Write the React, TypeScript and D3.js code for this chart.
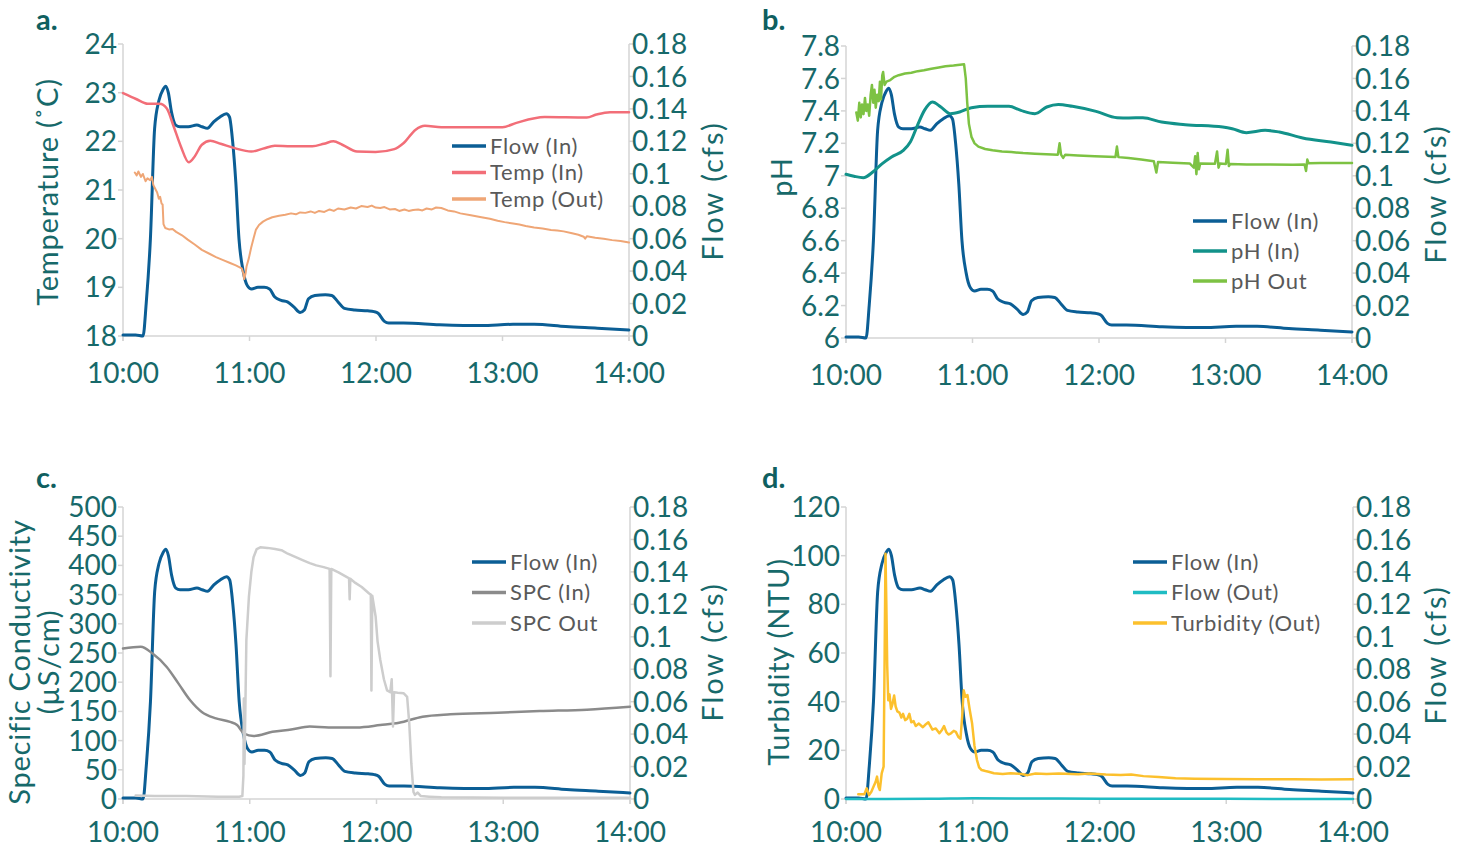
import React from 'react'
import * as d3 from 'd3'

type Pt = [number, number]

// time is minutes after 10:00
const timeTicks = [0, 60, 120, 180, 240]
const timeLabels = ['10:00', '11:00', '12:00', '13:00', '14:00']

const flowTicks = [0, 0.02, 0.04, 0.06, 0.08, 0.1, 0.12, 0.14, 0.16, 0.18]
const flowLabels = ['0', '0.02', '0.04', '0.06', '0.08', '0.1', '0.12', '0.14', '0.16', '0.18']

const tempTicks = [18, 19, 20, 21, 22, 23, 24]
const phTicks = [6, 6.2, 6.4, 6.6, 6.8, 7, 7.2, 7.4, 7.6, 7.8]
const phLabels = ['6', '6.2', '6.4', '6.6', '6.8', '7', '7.2', '7.4', '7.6', '7.8']
const spcTicks = [0, 50, 100, 150, 200, 250, 300, 350, 400, 450, 500]
const turbTicks = [0, 20, 40, 60, 80, 100, 120]

const flowIn: Pt[] = [
  [0, 0.0006], [6, 0.0006], [9.5, 0], [11, 0.02], [13, 0.06], [15, 0.128], [17, 0.145], [19, 0.152],
  [20.3, 0.154], [21.5, 0.15], [23, 0.138], [25, 0.13], [27, 0.129], [31, 0.129], [35, 0.13],
  [37.5, 0.129], [40, 0.128], [43, 0.132], [46, 0.135], [49, 0.137], [50.5, 0.135], [52, 0.12],
  [53.5, 0.095], [55, 0.06], [57, 0.04], [59, 0.031], [61, 0.029], [64, 0.03], [67, 0.03],
  [69.5, 0.029], [72, 0.024], [75, 0.022], [78, 0.021], [81, 0.018], [84, 0.0145], [86, 0.016],
  [88, 0.023], [91, 0.025], [96, 0.0255], [99, 0.025], [102, 0.021], [105, 0.017], [110, 0.016],
  [116, 0.0155], [119, 0.015], [121, 0.014], [124, 0.009], [126, 0.008], [133, 0.008], [150, 0.007],
  [170, 0.0064], [185, 0.0072], [195, 0.0072], [210, 0.0058], [225, 0.0048], [240, 0.0037],
]

const flowOut: Pt[] = [[0, 0], [40, 0.0001], [60, 0.0004], [90, 0.0003], [120, 0.0002], [180, 0.0001], [240, 0]]

const tempIn: Pt[] = [
  [0, 22.99], [6.2, 22.87], [11.8, 22.77], [17.4, 22.77], [20.7, 22.68], [24, 22.31], [27.4, 21.9],
  [31.2, 21.57], [34, 21.69], [37.4, 21.93], [41.4, 22.01], [46.3, 21.95], [53, 21.86], [60.8, 21.79],
  [66.4, 21.85], [72, 21.91], [79.7, 21.9], [89.8, 21.9], [95.3, 21.95], [99.8, 22.0], [104, 21.93],
  [111, 21.79], [119.8, 21.78], [128.7, 21.84], [133, 21.96], [138.8, 22.24], [143.2, 22.32],
  [151, 22.29], [164.4, 22.29], [180, 22.29], [186.6, 22.38], [200, 22.5], [220, 22.49],
  [224.5, 22.55], [231, 22.6], [240, 22.6],
]

const tempOut: Pt[] = [
  [5.6, 21.36], [6.5, 21.3], [7.3, 21.38], [8.5, 21.27], [9.4, 21.33], [10.7, 21.18], [11.6, 21.24],
  [12.9, 21.2], [13.7, 21.27], [14.4, 21.1], [15.1, 21.04], [16.2, 20.95], [17, 20.82], [17.6, 20.86],
  [18.3, 20.72], [18.8, 20.7], [19.2, 20.3], [20, 20.22], [21.8, 20.19], [23.5, 20.2], [25.2, 20.14],
  [28, 20.07], [30.7, 19.98], [34, 19.88], [37.4, 19.77], [41, 19.69], [44.1, 19.62], [47.5, 19.56],
  [50.8, 19.5], [53.5, 19.45], [56.3, 19.39], [57, 19.3], [57.5, 19.17], [58.2, 19.3], [58.6, 19.43],
  [59.7, 19.6], [60.8, 19.82], [62, 20.02], [63, 20.18], [64.5, 20.28], [66.4, 20.35], [68.5, 20.4],
  [70.8, 20.44], [74, 20.47], [77, 20.49], [79.7, 20.52], [82, 20.5], [84, 20.54], [86.5, 20.53],
  [89, 20.56], [91, 20.53], [93, 20.57], [95.5, 20.55], [98, 20.6], [100, 20.57], [102, 20.62],
  [105, 20.6], [108, 20.64], [110.5, 20.62], [113, 20.67], [116, 20.65], [118, 20.68], [119.8, 20.64],
  [122, 20.63], [124, 20.65], [126.5, 20.6], [129, 20.61], [131, 20.57], [133.5, 20.6], [135.5, 20.57],
  [137.6, 20.59], [140, 20.6], [142, 20.58], [144, 20.62], [146.5, 20.6], [148.5, 20.64], [151, 20.63],
  [154, 20.58], [157, 20.56], [160, 20.52], [165, 20.48], [170, 20.44], [174, 20.41], [177.7, 20.37],
  [181, 20.34], [185, 20.31], [188, 20.29], [191, 20.26], [195, 20.23], [199, 20.21], [203, 20.18],
  [206, 20.17], [209, 20.15], [213, 20.11], [216, 20.08], [218.5, 20.04], [219.2, 20.0], [220, 20.05],
  [224, 20.02], [228, 20.0], [232, 19.97], [236, 19.95], [240, 19.92],
]

const phIn: Pt[] = [
  [0, 7.009], [3.8, 6.997], [8.2, 6.988], [12.7, 7.023], [17.2, 7.075], [21.6, 7.116], [27.2, 7.157],
  [30.5, 7.208], [33.9, 7.311], [37.2, 7.403], [41, 7.455], [45, 7.424], [49.5, 7.383], [53.9, 7.393],
  [59.5, 7.42], [67.3, 7.428], [77.3, 7.428], [82.9, 7.403], [89.6, 7.383], [95.2, 7.424],
  [100.7, 7.44], [107.4, 7.428], [118.6, 7.397], [128.6, 7.358], [134.2, 7.356], [140.8, 7.358],
  [149.7, 7.331], [160.9, 7.315], [178.7, 7.3], [183.2, 7.29], [189.9, 7.266], [198.8, 7.28],
  [205.5, 7.27], [216.6, 7.233], [230, 7.208], [240, 7.188],
]

const phOut: Pt[] = [
  [4.9, 7.39], [5.6, 7.34], [6.3, 7.45], [7, 7.36], [7.6, 7.44], [8.3, 7.38], [9, 7.48], [9.6, 7.4],
  [10.3, 7.44], [11, 7.37], [11.7, 7.5], [12.3, 7.56], [12.9, 7.45], [13.5, 7.53], [14.1, 7.42],
  [14.8, 7.5], [15.5, 7.46], [16.1, 7.58], [16.6, 7.47], [17.2, 7.62], [17.6, 7.64], [18.3, 7.56],
  [19.2, 7.58], [21, 7.59], [23, 7.61], [25, 7.62], [28, 7.63], [31, 7.635], [34, 7.645], [37, 7.65],
  [40.5, 7.66], [44, 7.668], [47.2, 7.675], [51, 7.68], [54, 7.685], [56, 7.687], [56.8, 7.6],
  [57.5, 7.45], [58.3, 7.32], [59.5, 7.24], [61, 7.2], [62.8, 7.18], [66, 7.165], [69.5, 7.157],
  [74, 7.15], [78.4, 7.146], [84, 7.14], [89.6, 7.136], [95, 7.133], [100.5, 7.13], [101.3, 7.2],
  [102, 7.13], [103, 7.11], [104, 7.13], [110, 7.125], [118, 7.12], [127.8, 7.115], [128.5, 7.18],
  [129.2, 7.115], [134, 7.11], [140, 7.1], [146, 7.09], [147.2, 7.02], [148, 7.085], [155, 7.08],
  [163, 7.076], [165, 7.05], [165.6, 7.12], [166.2, 7.01], [166.8, 7.14], [167.4, 7.04], [168, 7.076],
  [175, 7.074], [176, 7.15], [176.7, 7.05], [177.3, 7.075], [180.2, 7.073], [181, 7.16], [181.6, 7.06],
  [182.2, 7.072], [190, 7.07], [200, 7.07], [212, 7.068], [217.5, 7.069], [218.2, 7.03], [218.8, 7.1],
  [219.4, 7.077], [225, 7.078], [240, 7.078],
]

const spcIn: Pt[] = [
  [0, 257.7], [8.4, 260.5], [14, 249], [20.7, 226], [26.2, 198], [31.8, 169], [37.3, 149], [44, 138],
  [50.7, 132], [54, 126.6], [57.3, 112], [61.8, 108], [70.7, 115], [79.6, 119], [88.4, 124],
  [97.3, 122.6], [110.7, 122.6], [121.8, 126.6], [130.7, 130.5], [141.8, 141], [155, 145],
  [177.3, 147.7], [197.3, 150.5], [219.6, 153], [240, 158],
]

const spcOut: Pt[] = [
  [6, 6], [15, 5], [30, 5], [45, 4], [55, 4], [56.5, 5], [57, 40], [57.2, 172], [57.5, 60], [57.9, 150],
  [58.4, 272], [59.6, 346], [60.8, 390], [61.8, 414], [63.3, 428], [65, 431], [68.4, 430], [72, 428],
  [75, 426], [78, 420], [81.8, 414], [85, 409], [88.4, 404], [91.5, 400], [95, 397], [97.8, 394],
  [98.2, 210], [98.6, 394], [102, 388], [106, 380], [107, 378], [107.3, 342], [107.6, 377], [110, 370],
  [113, 363], [116.5, 352], [117.3, 350], [117.6, 186], [118, 348], [119.6, 312], [120.5, 270],
  [121.8, 238], [123.5, 205], [125, 186], [126.5, 183], [127.2, 205], [127.8, 124], [128.3, 183],
  [130, 182], [132.9, 181], [134.5, 175], [135.5, 130], [136.5, 60], [137.5, 12], [138.2, 7],
  [139.5, 11], [141, 5], [145, 4], [150.7, 3], [180, 2], [240, 2],
]

const turbOut: Pt[] = [
  [5.8, 2], [8.7, 2], [9.8, 4.4], [10.9, 1.6], [12, 3], [13.1, 5.2], [14, 7], [14.7, 9.2], [15.4, 5],
  [16, 3.7], [16.9, 10.5], [17.8, 13.3], [18.3, 60], [18.7, 100.8], [19.1, 80], [19.5, 55], [20, 40.6],
  [20.6, 43], [21.3, 37], [22, 39], [22.8, 42.5], [23.5, 38], [24.3, 36], [25.3, 35.5], [26.2, 33.5],
  [27, 35], [28, 32.4], [29, 33], [30, 35], [30.9, 31.5], [32, 32], [33, 30], [34.5, 31], [36.4, 29.5],
  [37.5, 30.5], [39, 31.5], [40.9, 28.5], [42.5, 29], [44.2, 27], [45.5, 28.5], [46.4, 30], [47.5, 27.5],
  [48.5, 26.5], [49.7, 27], [51, 28], [52, 27.6], [53.2, 25.5], [54.2, 24.8], [55, 34], [55.7, 44.7],
  [56.5, 42], [57.5, 42.7], [58.5, 37], [59.7, 31], [60.8, 22], [62, 16], [63, 13], [64.2, 11.9],
  [66, 11.5], [67.5, 11.2], [70, 10.6], [74.2, 10.3], [78, 10.6], [83, 10.3], [86, 9.8], [89.7, 10.5],
  [95, 10.3], [100.8, 10.5], [110, 10.2], [115, 10.5], [123, 10.1], [130, 9.9], [135, 10.1],
  [140.8, 9.4], [148, 9], [156, 8.5], [165, 8.3], [178.5, 8.2], [195, 8.1], [211.8, 8.1], [225, 8],
  [240, 8.1],
]

const TEAL = '#17696a'
const AXIS = '#d4d4d4'
const LEGEND_TEXT = '#595959'
const FONT = "Lato, 'Open Sans', sans-serif"

type Series = { name: string; data: Pt[]; color: string; width: number; axis: 'L' | 'R'; smooth: boolean }

type PanelCfg = {
  letter: string
  letterX: number
  letterY: number
  x0: number
  x1: number
  yTop: number
  yBot: number
  leftDomain: [number, number]
  leftTicks: number[]
  leftLabels: string[]
  leftTitle: string[]
  leftTitleX: number[]
  titleY: number
  rightTitleX: number
  rightTitleY: number
  xLabelDy: number
  legendX: number
  legendY: number
  legendGap: number
  series: Series[]
  legendOrder: string[]
}

const flowSeries: Series = { name: 'Flow (In)', data: flowIn, color: '#0b5e95', width: 3, axis: 'R', smooth: true }

const panels: PanelCfg[] = [
  {
    letter: 'a.', letterX: 36, letterY: 30, x0: 123, x1: 629, yTop: 44, yBot: 336,
    leftDomain: [18, 24], leftTicks: tempTicks, leftLabels: tempTicks.map(String),
    leftTitle: ['Temperature (˚C)'], leftTitleX: [46], titleY: 192, rightTitleX: 711, rightTitleY: 191,
    xLabelDy: 47, legendX: 452, legendY: 146, legendGap: 26.5,
    series: [
      flowSeries,
      { name: 'Temp (In)', data: tempIn, color: '#f26e78', width: 2.5, axis: 'L', smooth: true },
      { name: 'Temp (Out)', data: tempOut, color: '#efa676', width: 2, axis: 'L', smooth: false },
    ],
    legendOrder: ['Flow (In)', 'Temp (In)', 'Temp (Out)'],
  },
  {
    letter: 'b.', letterX: 762, letterY: 30, x0: 846, x1: 1352, yTop: 46, yBot: 338,
    leftDomain: [6, 7.8], leftTicks: phTicks, leftLabels: phLabels,
    leftTitle: ['pH'], leftTitleX: [780], titleY: 177, rightTitleX: 1434, rightTitleY: 194,
    xLabelDy: 47, legendX: 1193, legendY: 221, legendGap: 30,
    series: [
      flowSeries,
      { name: 'pH (In)', data: phIn, color: '#12928a', width: 3, axis: 'L', smooth: true },
      { name: 'pH Out', data: phOut, color: '#7dc243', width: 2.5, axis: 'L', smooth: false },
    ],
    legendOrder: ['Flow (In)', 'pH (In)', 'pH Out'],
  },
  {
    letter: 'c.', letterX: 36, letterY: 488, x0: 123, x1: 630, yTop: 507, yBot: 799,
    leftDomain: [0, 500], leftTicks: spcTicks, leftLabels: spcTicks.map(String),
    leftTitle: ['Specific Conductivity', '(µS/cm)'], leftTitleX: [18, 47], titleY: 662, rightTitleX: 711, rightTitleY: 652,
    xLabelDy: 43, legendX: 472, legendY: 562, legendGap: 30.5,
    series: [
      flowSeries,
      { name: 'SPC (In)', data: spcIn, color: '#8b8b8b', width: 2.5, axis: 'L', smooth: true },
      { name: 'SPC Out', data: spcOut, color: '#cdcdcd', width: 2.5, axis: 'L', smooth: false },
    ],
    legendOrder: ['Flow (In)', 'SPC (In)', 'SPC Out'],
  },
  {
    letter: 'd.', letterX: 762, letterY: 488, x0: 846, x1: 1353, yTop: 507, yBot: 799,
    leftDomain: [0, 120], leftTicks: turbTicks, leftLabels: turbTicks.map(String),
    leftTitle: ['Turbidity (NTU)'], leftTitleX: [777], titleY: 662, rightTitleX: 1434, rightTitleY: 655,
    xLabelDy: 43, legendX: 1133, legendY: 562, legendGap: 30.5,
    series: [
      flowSeries,
      { name: 'Flow (Out)', data: flowOut, color: '#1fbcc3', width: 2.5, axis: 'R', smooth: true },
      { name: 'Turbidity (Out)', data: turbOut, color: '#fcc02d', width: 2.5, axis: 'L', smooth: false },
    ],
    legendOrder: ['Flow (In)', 'Flow (Out)', 'Turbidity (Out)'],
  },
]

function Panel({ p }: { p: PanelCfg }) {
  const x = d3.scaleLinear().domain([0, 240]).range([p.x0, p.x1])
  const yL = d3.scaleLinear().domain(p.leftDomain).range([p.yBot, p.yTop])
  const yR = d3.scaleLinear().domain([0, 0.18]).range([p.yBot, p.yTop])

  const path = (s: Series) => {
    const y = s.axis === 'L' ? yL : yR
    return d3.line<Pt>()
      .x(d => x(d[0]))
      .y(d => y(d[1]))
      .curve(s.smooth ? d3.curveMonotoneX : d3.curveLinear)(s.data) || ''
  }

  const byName = (n: string) => p.series.find(s => s.name === n)!

  return (
    <g>
      <text x={p.letterX} y={p.letterY} fill="#0f5f60" fontSize={29} fontWeight={700} fontFamily={FONT}>{p.letter}</text>

      {/* axes */}
      <g stroke={AXIS} strokeWidth={1.5} fill="none">
        <line x1={p.x0} x2={p.x0} y1={p.yTop} y2={p.yBot + 5} />
        <line x1={p.x1} x2={p.x1} y1={p.yTop} y2={p.yBot + 5} />
        <line x1={p.x0} x2={p.x1} y1={p.yBot} y2={p.yBot} />
        {p.leftTicks.map(t => <line key={'l' + t} x1={p.x0 - 5} x2={p.x0} y1={yL(t)} y2={yL(t)} />)}
        {flowTicks.map(t => <line key={'r' + t} x1={p.x1} x2={p.x1 + 5} y1={yR(t)} y2={yR(t)} />)}
        {timeTicks.map(t => <line key={'b' + t} x1={x(t)} x2={x(t)} y1={p.yBot} y2={p.yBot + 5} />)}
      </g>

      {/* series, flow underneath */}
      {p.series.map(s => (
        <path key={s.name} d={path(s)} fill="none" stroke={s.color} strokeWidth={s.width}
          strokeLinejoin="round" strokeLinecap="round" />
      ))}

      {/* tick labels */}
      <g fill={TEAL} fontFamily={FONT} fontSize={28}>
        {p.leftTicks.map((t, i) => (
          <text key={'lt' + t} x={p.x0 - 6} y={yL(t)} dy="0.36em" textAnchor="end">{p.leftLabels[i]}</text>
        ))}
        {flowTicks.map((t, i) => (
          <text key={'rt' + t} x={p.x1 + 3} y={yR(t)} dy="0.36em" textAnchor="start">{flowLabels[i]}</text>
        ))}
        {timeTicks.map((t, i) => (
          <text key={'bt' + t} x={x(t)} y={p.yBot + p.xLabelDy} textAnchor="middle">{timeLabels[i]}</text>
        ))}
      </g>

      {/* axis titles */}
      <g fill={TEAL} fontFamily={FONT} fontSize={29} letterSpacing={0.8}>
        {p.leftTitle.map((tt, i) => (
          <text key={tt} transform={`translate(${p.leftTitleX[i]},${p.titleY}) rotate(-90)`}
            textAnchor="middle" dominantBaseline="central">{tt}</text>
        ))}
        <text transform={`translate(${p.rightTitleX},${p.rightTitleY}) rotate(-90)`}
          textAnchor="middle" dominantBaseline="central" letterSpacing={2}>Flow (cfs)</text>
      </g>

      {/* legend */}
      <g fontFamily={FONT} fontSize={22} fill={LEGEND_TEXT} letterSpacing={0.7}>
        {p.legendOrder.map((n, i) => {
          const s = byName(n)
          const yy = p.legendY + i * p.legendGap
          return (
            <g key={n}>
              <line x1={p.legendX} x2={p.legendX + 34} y1={yy} y2={yy} stroke={s.color} strokeWidth={3.5} />
              <text x={p.legendX + 38} y={yy} dy="0.36em">{n}</text>
            </g>
          )
        })}
      </g>
    </g>
  )
}

export default function App() {
  return (
    <svg width={1461} height={847} style={{ position: 'absolute', left: 0, top: 0, background: '#fff' }}>
      {panels.map(p => <Panel key={p.letter} p={p} />)}
    </svg>
  )
}
